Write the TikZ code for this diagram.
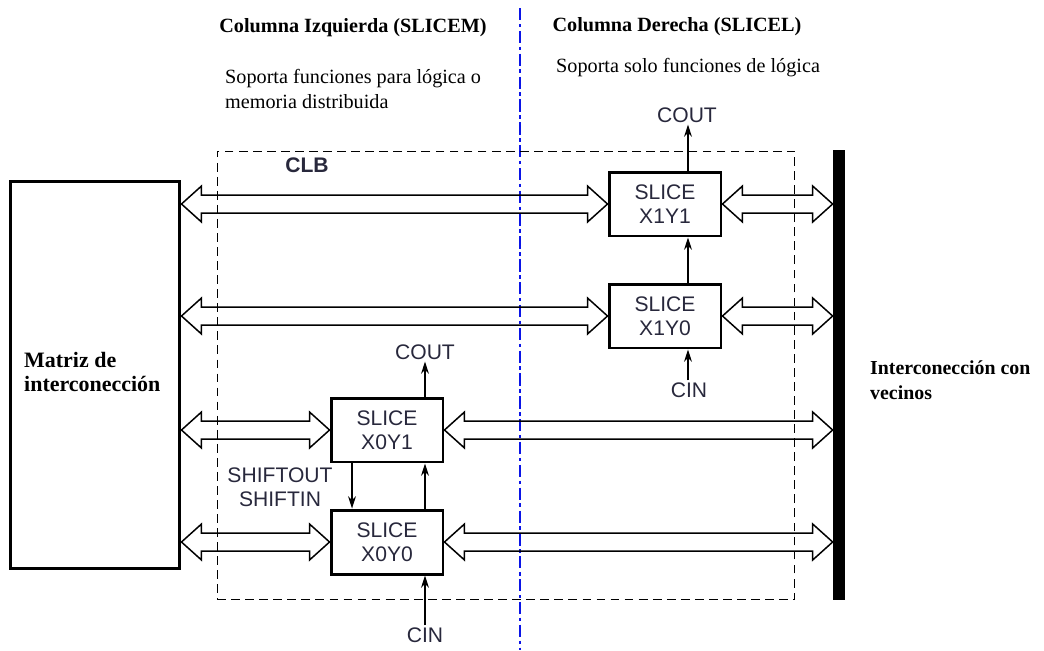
\documentclass[tikz,border=0pt]{standalone}
\usepackage{fontspec}
\setmainfont{Liberation Serif}
\setsansfont{Liberation Sans}
\usetikzlibrary{arrows.meta,calc}
\definecolor{txt}{RGB}{40,40,60}
\definecolor{divblue}{RGB}{10,20,230}
\tikzset{
  slice/.style={draw, line width=1.7pt, minimum width=2.24cm, minimum height=1.28cm, align=center, text=txt, font=\sffamily\fontsize{12}{13.6}\selectfont},
  lbl/.style={text=txt, font=\sffamily\fontsize{12}{13.6}\selectfont, inner sep=1pt},
  title/.style={font=\bfseries\fontsize{11.5}{14}\selectfont},
  note/.style={anchor=west, align=left, font=\fontsize{11.5}{14.2}\selectfont},
  bus/.style={line width=0.85pt, to path={let \p1=(\tikztostart), \p2=(\tikztotarget) in
    -- (\x1+0.4cm,\y1+0.36cm) -- (\x1+0.4cm,\y1+0.18cm) -- (\x2-0.4cm,\y1+0.18cm) -- (\x2-0.4cm,\y1+0.36cm)
    -- (\x2,\y1) -- (\x2-0.4cm,\y1-0.36cm) -- (\x2-0.4cm,\y1-0.18cm) -- (\x1+0.4cm,\y1-0.18cm)
    -- (\x1+0.4cm,\y1-0.36cm) -- cycle}},
  sig/.style={line width=0.8pt, -{Stealth[length=7pt,width=4.5pt]}}
}
\begin{document}
\begin{tikzpicture}[x=0.02cm, y=-0.02cm]
        \useasboundingbox (0,0) rectangle (1044,650);

        % Columns
        \coordinate (divtop) at (520,8);
        \coordinate (divbot) at (520,650);
        \draw[divblue, line width=1.3pt, dash pattern=on 7pt off 2pt on 2pt off 2pt] (divtop) -- (divbot);
        \node[title] (izq) at (353,28) {Columna Izquierda (SLICEM)};
        \node[title] (der) at (677,27) {Columna Derecha (SLICEL)};
        \node[note] (izqnote) at (219,89) {Soporta funciones para lógica o\\memoria distribuida};
        \node[note] (dernote) at (550,68) {Soporta solo funciones de lógica};

        % Blocks
        \node[draw, line width=1.7pt, minimum width=3.4cm, minimum height=7.76cm] (matriz) at (95,375) {};
        \node[anchor=west, align=left, font=\bfseries\fontsize{12.5}{14.2}\selectfont] (matriztxt) at (18,372) {Matriz de\\interconección};
        \node[draw, dashed, dash pattern=on 5pt off 3pt, line width=0.6pt, inner sep=0, minimum width=11.56cm, minimum height=8.98cm] (clb) at (506,375.5) {};
        \node[font=\sffamily\bfseries\fontsize{12}{14}\selectfont, text=txt] (clbtxt) at (307,165) {CLB};
        \node[fill=black, inner sep=0, minimum width=0.24cm, minimum height=9cm] (bar) at (839,375) {};
        \node[anchor=west, align=left, font=\bfseries\fontsize{11.3}{14.2}\selectfont] (vecinos) at (864,380) {Interconección con\\vecinos};

        \node[slice] (X1Y1) at (665,204) {SLICE\\X1Y1};
        \node[slice] (X1Y0) at (665,316) {SLICE\\X1Y0};
        \node[slice] (X0Y1) at (387,430) {SLICE\\X0Y1};
        \node[slice] (X0Y0) at (387,542) {SLICE\\X0Y0};

        % Buses
        \draw[bus] (matriz.east |- X1Y1.west) to (X1Y1.west);
        \draw[bus] (matriz.east |- X1Y0.west) to (X1Y0.west);
        \draw[bus] (matriz.east |- X0Y1.west) to (X0Y1.west);
        \draw[bus] (matriz.east |- X0Y0.west) to (X0Y0.west);
        \draw[bus] (X1Y1.east) to (bar.west |- X1Y1.east);
        \draw[bus] (X1Y0.east) to (bar.west |- X1Y0.east);
        \draw[bus] (X0Y1.east) to (bar.west |- X0Y1.east);
        \draw[bus] (X0Y0.east) to (bar.west |- X0Y0.east);

        % Carry chain
        \node[lbl] (cout1) at (687,115) {COUT};
        \node[lbl] (cin1) at (689,390) {CIN};
        \node[lbl] (cout0) at (425,352) {COUT};
        \node[lbl] (cin0) at (425,635) {CIN};
        \node[lbl, align=center] (shift) at (280,487) {SHIFTOUT\\SHIFTIN};
        \draw[sig] ([xshift=0.46cm]X1Y1.north) -- ([xshift=0.46cm]X1Y1.north |- cout1.south);
        \draw[sig] ([xshift=0.46cm]X1Y0.north) -- ([xshift=0.46cm]X1Y1.south);
        \draw[sig] ([xshift=0.46cm]X1Y0.south |- cin1.north) -- ([xshift=0.46cm]X1Y0.south);
        \draw[sig] ([xshift=0.76cm]X0Y1.north) -- ([xshift=0.76cm]X0Y1.north |- cout0.south);
        \draw[sig] ([xshift=0.76cm]X0Y0.north) -- ([xshift=0.76cm]X0Y1.south);
        \draw[sig] ([xshift=0.76cm]X0Y0.south |- cin0.north) -- ([xshift=0.76cm]X0Y0.south);
        \draw[sig] ([xshift=-0.7cm]X0Y1.south) -- ([xshift=-0.7cm]X0Y0.north);
\end{tikzpicture}
\end{document}
